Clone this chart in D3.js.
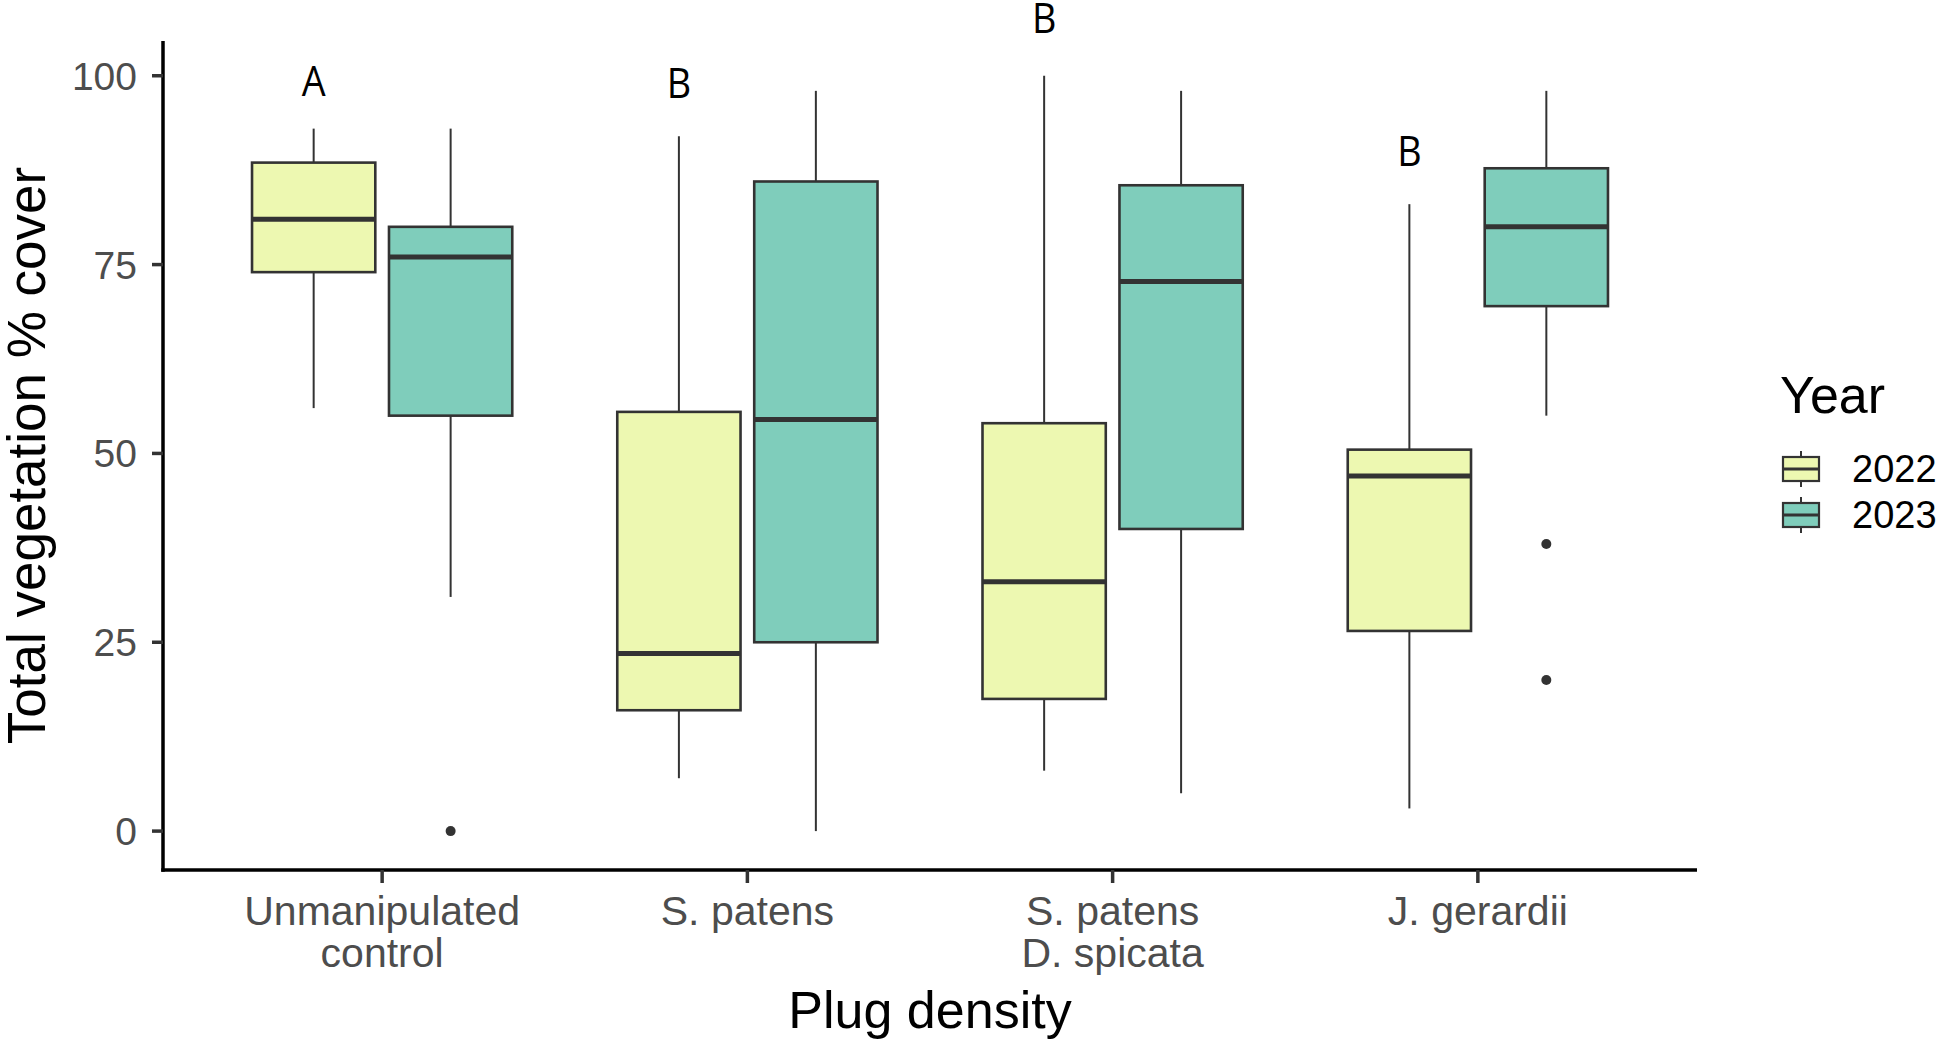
<!DOCTYPE html>
<html>
<head>
<meta charset="utf-8">
<title>Total vegetation cover</title>
<script src="https://d3js.org/d3.v7.min.js"></script>
<style>
	body { margin: 0; background: #fff; }
	svg text { font-family: "Liberation Sans", Arial, Helvetica, sans-serif; }
	.tick-label { fill: #4d4d4d; }
	.letter { font-family: "Open Sans", sans-serif; }
</style>
</head>
<body>
<div id="chart"></div>
<script>
// categories and groups
var categories = ["Unmanipulated\ncontrol", "S. patens", "S. patens\nD. spicata", "J. gerardii"];
var years = ["2022", "2023"];
var yTicks = [0, 25, 50, 75, 100];

// box statistics, one value per category
var low2022    = [56, 7, 8, 3];
var q1_2022    = [74, 16, 17.5, 26.5];
var median2022 = [81, 23.5, 33, 47];
var q3_2022    = [88.5, 55.5, 54, 50.5];
var high2022   = [93, 92, 100, 83];

var low2023    = [31, 0, 5, 55];
var q1_2023    = [55, 25, 40, 69.5];
var median2023 = [76, 54.5, 72.75, 80];
var q3_2023    = [80, 86, 85.5, 87.75];
var high2023   = [93, 98, 98, 98];

var outliers2022 = [[], [], [], []];
var outliers2023 = [[0], [], [], [38, 20]];

// significance letters (placed over the 2022 box)
var letters = ["A", "B", "B", "B"];
var letterY = [99.3, 99, 107.7, 90];

var fills = {"2022": "#EDF8B1", "2023": "#7FCDBB"};

var boxes = [];
categories.forEach(function(c, i) {
	boxes.push({cat: c, year: "2022", low: low2022[i], q1: q1_2022[i], med: median2022[i], q3: q3_2022[i], high: high2022[i], out: outliers2022[i]});
	boxes.push({cat: c, year: "2023", low: low2023[i], q1: q1_2023[i], med: median2023[i], q3: q3_2023[i], high: high2023[i], out: outliers2023[i]});
});

var W = 1949, H = 1044;
// panel edges (note: "top" is reserved on window, so use prefixed names)
var pLeft = 163, pRight = 1697, pTop = 41, pBottom = 870;

var svg = d3.select("#chart").append("svg")
	.attr("width", W)
	.attr("height", H);

var x = d3.scalePoint()
	.domain(categories)
	.range([pLeft, pRight])
	.padding(0.6);

var step = x.step();

var dodge = d3.scaleBand()
	.domain(years)
	.range([-0.375 * step, 0.375 * step])
	.paddingInner(0.1)
	.paddingOuter(0.05);

var y = d3.scaleLinear()
	.domain([-5.15, 104.6])
	.range([pBottom, pTop]);

function cx(d) { return x(d.cat) + dodge(d.year) + dodge.bandwidth() / 2; }

// boxes
var g = svg.append("g").attr("class", "boxes");
var bg = g.selectAll("g.box")
	.data(boxes)
	.enter().append("g")
		.attr("class", "box");

bg.append("line")
	.attr("x1", cx).attr("x2", cx)
	.attr("y1", function(d) { return y(d.q3); })
	.attr("y2", function(d) { return y(d.high); })
	.attr("stroke", "#333").attr("stroke-width", 2);
bg.append("line")
	.attr("x1", cx).attr("x2", cx)
	.attr("y1", function(d) { return y(d.q1); })
	.attr("y2", function(d) { return y(d.low); })
	.attr("stroke", "#333").attr("stroke-width", 2);
bg.append("rect")
	.attr("x", function(d) { return x(d.cat) + dodge(d.year); })
	.attr("width", dodge.bandwidth())
	.attr("y", function(d) { return y(d.q3); })
	.attr("height", function(d) { return y(d.q1) - y(d.q3); })
	.attr("fill", function(d) { return fills[d.year]; })
	.attr("stroke", "#333").attr("stroke-width", 2.6);
bg.append("line")
	.attr("x1", function(d) { return x(d.cat) + dodge(d.year); })
	.attr("x2", function(d) { return x(d.cat) + dodge(d.year) + dodge.bandwidth(); })
	.attr("y1", function(d) { return y(d.med); })
	.attr("y2", function(d) { return y(d.med); })
	.attr("stroke", "#333").attr("stroke-width", 5);
bg.selectAll("circle")
	.data(function(d) { return d.out.map(function(v) { return {v: v, x: cx(d)}; }); })
	.enter().append("circle")
		.attr("cx", function(o) { return o.x; })
		.attr("cy", function(o) { return y(o.v); })
		.attr("r", 5)
		.attr("fill", "#333");

// letters
svg.append("g").selectAll("text")
	.data(letters)
	.enter().append("text")
		.attr("class", "letter")
		.attr("transform", function(d, i) {
			var lx = x(categories[i]) + dodge("2022") + dodge.bandwidth() / 2;
			return "translate(" + lx + "," + (y(letterY[i]) + 15) + ") scale(0.9,1)";
		})
		.attr("text-anchor", "middle")
		.attr("font-size", 42)
		.attr("fill", "#000")
		.text(function(d) { return d; });

// axes
var axes = svg.append("g");
axes.append("line")
	.attr("x1", pLeft).attr("x2", pLeft)
	.attr("y1", pTop).attr("y2", pBottom + 1.75)
	.attr("stroke", "#000").attr("stroke-width", 3.5);
axes.append("line")
	.attr("x1", pLeft - 1.75).attr("x2", pRight)
	.attr("y1", pBottom).attr("y2", pBottom)
	.attr("stroke", "#000").attr("stroke-width", 3.5);

var yt = axes.selectAll("g.ytick")
	.data(yTicks)
	.enter().append("g")
		.attr("class", "ytick")
		.attr("transform", function(d) { return "translate(0," + y(d) + ")"; });
yt.append("line")
	.attr("x1", pLeft - 11).attr("x2", pLeft)
	.attr("stroke", "#333").attr("stroke-width", 3.5);
yt.append("text")
	.attr("class", "tick-label")
	.attr("x", 137)
	.attr("y", 14)
	.attr("text-anchor", "end")
	.attr("font-size", 39)
	.text(function(d) { return d; });

var xt = axes.selectAll("g.xtick")
	.data(categories)
	.enter().append("g")
		.attr("class", "xtick")
		.attr("transform", function(d) { return "translate(" + x(d) + ",0)"; });
xt.append("line")
	.attr("y1", pBottom).attr("y2", pBottom + 13)
	.attr("stroke", "#333").attr("stroke-width", 3.5);
xt.append("text")
	.attr("class", "tick-label")
	.attr("text-anchor", "middle")
	.attr("font-size", 41)
	.selectAll("tspan")
	.data(function(d) { return d.split("\n"); })
	.enter().append("tspan")
		.attr("x", 0)
		.attr("y", function(d, i) { return 925 + i * 42; })
		.text(function(d) { return d; });

// axis titles
svg.append("text")
	.attr("x", (pLeft + pRight) / 2)
	.attr("y", 1028)
	.attr("text-anchor", "middle")
	.attr("font-size", 52)
	.attr("fill", "#000")
	.text("Plug density");

svg.append("text")
	.attr("transform", "translate(45," + ((pTop + pBottom) / 2) + ") rotate(-90)")
	.attr("text-anchor", "middle")
	.attr("font-size", 53)
	.attr("fill", "#000")
	.text("Total vegetation % cover");

// legend
var legend = svg.append("g").attr("transform", "translate(1780,0)");
legend.append("text")
	.attr("x", 0).attr("y", 413)
	.attr("font-size", 52)
	.attr("fill", "#000")
	.text("Year");

var keys = legend.selectAll("g.key")
	.data(years)
	.enter().append("g")
		.attr("class", "key")
		.attr("transform", function(d, i) { return "translate(3," + (457 + i * 46) + ")"; });
keys.append("line")
	.attr("x1", 18).attr("x2", 18)
	.attr("y1", -6).attr("y2", 30)
	.attr("stroke", "#333").attr("stroke-width", 2);
keys.append("rect")
	.attr("width", 36).attr("height", 24)
	.attr("fill", function(d) { return fills[d]; })
	.attr("stroke", "#333").attr("stroke-width", 2.2);
keys.append("line")
	.attr("x1", 0).attr("x2", 36)
	.attr("y1", 12).attr("y2", 12)
	.attr("stroke", "#333").attr("stroke-width", 3);
keys.append("text")
	.attr("x", 69).attr("y", 25)
	.attr("font-size", 38)
	.attr("fill", "#000")
	.text(function(d) { return d; });
</script>
</body>
</html>
